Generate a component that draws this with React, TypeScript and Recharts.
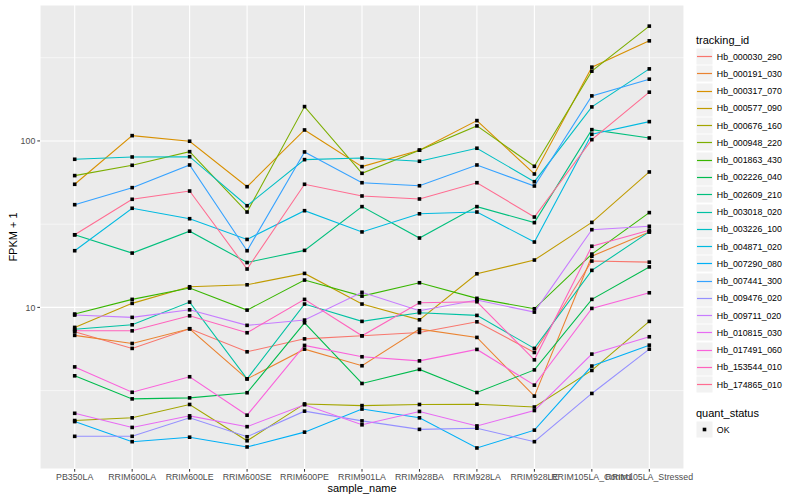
import React from 'react';
import { LineChart, Line, XAxis, YAxis, CartesianGrid, ReferenceLine, Label } from 'recharts';

const samples = [
  'PB350LA', 'RRIM600LA', 'RRIM600LE', 'RRIM600SE', 'RRIM600PE', 'RRIM901LA',
  'RRIM928BA', 'RRIM928LA', 'RRIM928LE', 'RRIM105LA_Control', 'RRIM105LA_Stressed',
];

const trackingIds = [
  'Hb_000030_290', 'Hb_000191_030', 'Hb_000317_070', 'Hb_000577_090', 'Hb_000676_160',
  'Hb_000948_220', 'Hb_001863_430', 'Hb_002226_040', 'Hb_002609_210', 'Hb_003018_020',
  'Hb_003226_100', 'Hb_004871_020', 'Hb_007290_080', 'Hb_007441_300', 'Hb_009476_020',
  'Hb_009711_020', 'Hb_010815_030', 'Hb_017491_060', 'Hb_153544_010', 'Hb_174865_010',
];

const colors = [
  '#F8766D', '#EA8331', '#D89000', '#C09B00', '#A3A500', '#7CAE00', '#39B600', '#00BB4E',
  '#00BF7D', '#00C1A3', '#00BFC4', '#00BAE0', '#00B0F6', '#35A2FF', '#9590FF', '#C77CFF',
  '#E76BF3', '#FA62DB', '#FF62BC', '#FF6C91',
];

// FPKM + 1, one value per sample
const hb000030 = [7.13, 5.67, 7.44, 5.41, 6.47, 6.75, 7.07, 8.19, 5.36, 18.98, 18.7];
const hb000191 = [6.79, 6.07, 7.44, 3.72, 5.61, 4.46, 7.4, 6.6, 2.93, 20.3, 28.4];
const hb000317 = [54.9, 107.6, 99.6, 53.1, 116.4, 70.1, 88.0, 132.5, 63.3, 277.5, 399.3];
const hb000577 = [7.58, 10.57, 13.3, 13.67, 16.0, 10.47, 8.42, 15.92, 19.25, 32.4, 65.1];
const hb000676 = [2.09, 2.17, 2.61, 1.58, 2.63, 2.57, 2.61, 2.62, 2.52, 4.18, 8.24];
const hb000948 = [61.9, 71.4, 86.2, 37.4, 160.8, 63.9, 88.0, 123.1, 70.4, 262.5, 489.6];
const hb001863 = [9.12, 11.17, 13.06, 9.63, 14.59, 11.69, 14.06, 11.33, 9.81, 20.9, 37.1];
const hb002226 = [3.88, 2.82, 2.86, 3.07, 8.08, 3.49, 4.24, 3.08, 4.21, 11.17, 17.5];
const hb002609 = [27.3, 21.2, 28.7, 18.6, 22.0, 40.3, 26.1, 40.3, 32.3, 116.9, 104.2];
const hb003018 = [7.38, 7.86, 10.76, 3.72, 10.47, 8.24, 9.28, 8.95, 5.67, 16.69, 28.4];
const hb003226 = [77.6, 80.1, 80.4, 40.8, 77.2, 79.0, 75.5, 90.4, 56.9, 160.1, 271];
const hb004871 = [21.9, 39.4, 34.1, 25.6, 38.1, 28.4, 36.5, 37.4, 24.7, 109.7, 130.6];
const hb007290 = [2.06, 1.56, 1.66, 1.45, 1.78, 2.45, 2.17, 1.43, 1.83, 4.44, 5.93];
const hb007441 = [41.4, 52.4, 71.7, 21.9, 85.9, 56.1, 53.8, 71.7, 53.6, 186.5, 235];
const hb009476 = [1.68, 1.68, 2.17, 1.67, 2.38, 2.08, 1.85, 1.88, 1.56, 3.04, 5.61];
const hb009711 = [8.99, 8.71, 9.67, 7.8, 8.39, 12.31, 9.54, 11.06, 9.37, 29.3, 30.7];
const hb010815 = [2.31, 1.9, 2.23, 1.92, 2.6, 1.97, 2.37, 1.94, 2.4, 5.24, 6.66];
const hb017491 = [4.39, 3.09, 3.83, 2.25, 5.91, 5.05, 4.77, 5.59, 3.41, 9.86, 12.24];
const hb153544 = [7.23, 7.23, 8.9, 7.04, 11.17, 6.75, 10.66, 10.81, 4.84, 23.3, 29.1];
const hb174865 = [27.3, 44.6, 50.0, 17.0, 54.9, 46.7, 44.8, 56.1, 34.9, 101.8, 196.3];

const seriesValues = [
  hb000030, hb000191, hb000317, hb000577, hb000676, hb000948, hb001863, hb002226,
  hb002609, hb003018, hb003226, hb004871, hb007290, hb007441, hb009476, hb009711,
  hb010815, hb017491, hb153544, hb174865,
];

const majorBreaks = [10, 100];
const minorBreaks = [3.1623, 31.623, 316.23];

const data = samples.map((sample, i) => {
  const row: Record<string, string | number> = { sample };
  trackingIds.forEach((id, s) => {
    row[id] = seriesValues[s][i];
  });
  return row;
});

const FONT = '"Liberation Sans", Arial, Helvetica, sans-serif';

const squareDot = (props: any) => {
  const { cx, cy, index, dataKey } = props;
  if (cx == null || cy == null) return <g key={`${dataKey}-${index}`} />;
  return <rect key={`${dataKey}-${index}`} x={cx - 1.8} y={cy - 1.8} width={3.6} height={3.6} fill="#000" />;
};

const YTitle = (props: any) => {
  const vb = props.viewBox || {};
  const cy = vb.y + vb.height / 2;
  return (
    <text x={13} y={cy} transform={`rotate(-90, 13, ${cy})`} textAnchor="middle" dominantBaseline="central"
      fontSize={11} fill="#000" fontFamily={FONT}>
      FPKM + 1
    </text>
  );
};

// legend key: grey box with the series line through it
const LegendKey = ({ color }: { color: string }) => (
  <svg width={17} height={17} style={{ display: 'block' }}>
    <rect x={0.5} y={0.5} width={16} height={16} fill="#F2F2F2" />
    <line x1={1} x2={16} y1={8.5} y2={8.5} stroke={color} strokeWidth={1.2} />
  </svg>
);

export default function App() {
  return (
    <div style={{ position: 'absolute', left: 0, top: 0, width: 800, height: 500, background: '#fff', fontFamily: FONT }}>
      <LineChart width={800} height={500} data={data} margin={{ top: 5, right: 116, left: 0, bottom: 0 }}>
        <CartesianGrid fill="#EBEBEB" stroke="#FFFFFF" strokeWidth={1.1} />
        {minorBreaks.map((b) => (
          <ReferenceLine key={b} y={b} stroke="#FFFFFF" strokeWidth={0.55} ifOverflow="hidden" />
        ))}
        <XAxis
          dataKey="sample"
          type="category"
          interval={0}
          padding={{ left: 34.7, right: 34.7 }}
          height={31}
          axisLine={false}
          tickSize={2.7}
          tickMargin={2}
          tickLine={{ stroke: '#333333' }}
          tick={{ fill: '#4D4D4D', fontSize: 8.8, fontFamily: FONT }}
        >
          <Label value="sample_name" position="insideBottom" offset={8} fontSize={11} fill="#000" fontFamily={FONT} />
        </XAxis>
        <YAxis
          scale="log"
          type="number"
          domain={[1.069, 655.7]}
          allowDataOverflow
          ticks={majorBreaks}
          width={40}
          axisLine={false}
          tickSize={2.7}
          tickMargin={2}
          tickLine={{ stroke: '#333333' }}
          tick={{ fill: '#4D4D4D', fontSize: 8.8, fontFamily: FONT }}
        >
          <Label content={<YTitle />} />
        </YAxis>
        {trackingIds.map((id, s) => (
          <Line
            key={id}
            dataKey={id}
            stroke={colors[s]}
            strokeWidth={1.07}
            dot={false}
            activeDot={false}
            isAnimationActive={false}
            type="linear"
          />
        ))}
        {trackingIds.map((id) => (
          <Line
            key={`${id}-pts`}
            dataKey={id}
            stroke="none"
            strokeWidth={0}
            dot={squareDot}
            activeDot={false}
            isAnimationActive={false}
            legendType="none"
          />
        ))}
      </LineChart>

      <div style={{ position: 'absolute', left: 696, top: 33, color: '#000' }}>
        <div style={{ fontSize: 11, height: 15, lineHeight: '15px' }}>tracking_id</div>
        {trackingIds.map((id, s) => (
          <div key={id} style={{ display: 'flex', alignItems: 'center', height: 17.28 }}>
            <LegendKey color={colors[s]} />
            <span style={{ fontSize: 8.8, marginLeft: 3.8 }}>{id}</span>
          </div>
        ))}
        <div style={{ fontSize: 11, height: 15, lineHeight: '15px', marginTop: 13 }}>quant_status</div>
        <div style={{ display: 'flex', alignItems: 'center', height: 17.28 }}>
          <svg width={17} height={17} style={{ display: 'block' }}>
            <rect x={0.5} y={0.5} width={16} height={16} fill="#F2F2F2" />
            <rect x={6.7} y={6.7} width={3.6} height={3.6} fill="#000" />
          </svg>
          <span style={{ fontSize: 8.8, marginLeft: 3.8 }}>OK</span>
        </div>
      </div>
    </div>
  );
}
